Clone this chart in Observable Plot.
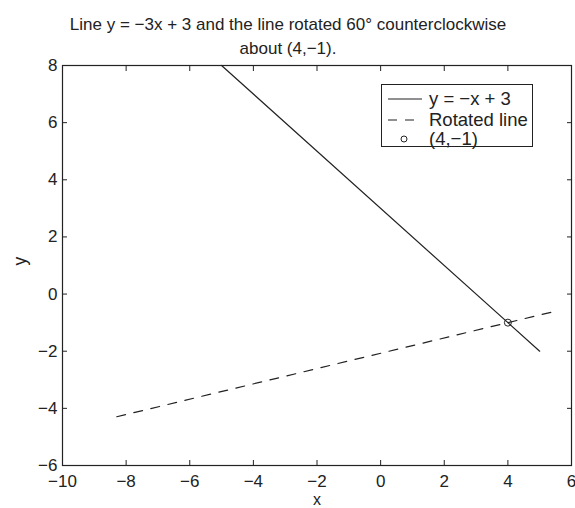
<!DOCTYPE html>
<html>
<head>
<meta charset="utf-8">
<script src="https://cdn.jsdelivr.net/npm/d3@7"></script>
<script src="https://cdn.jsdelivr.net/npm/@observablehq/plot@0.6"></script>
<style>
  html, body { margin: 0; padding: 0; background: #fff; }
  #wrap { position: relative; width: 575px; height: 508px; font-family: "Liberation Sans", Arial, Helvetica, sans-serif; }
  #legend { position: absolute; left: 381px; top: 84px; width: 152px; height: 63px; border: 1px solid #222; background: #fff; box-sizing: border-box; }
  .row { position: absolute; left: 0; width: 150px; height: 20px; }
  .row span { font-size: 18.5px; line-height: 20px; color: #222; position: absolute; top: 0; left: 47px; white-space: nowrap; }
  .row svg { position: absolute; left: 5px; top: 0; }
</style>
</head>
<body>
<div id="wrap"></div>
<script>
const titleText = "Line y = \u22123x + 3 and the line rotated 60\u00b0 counterclockwise\nabout (4,\u22121).";
const xTicks = [-10, -8, -6, -4, -2, 0, 2, 4, 6];
const yTicks = [-6, -4, -2, 0, 2, 4, 6, 8];
const lineX = [-5, 5];
const lineY = [8, -2];
const rotX = [-8.294, 5.366];
const rotY = [-4.294, -0.634];
const pointX = [4];
const pointY = [-1];
const legendLabels = ["y = \u2212x + 3", "Rotated line", "(4,\u22121)"];

const fmt = d => d < 0 ? "\u2212" + Math.abs(d) : String(d);
const solid = lineX.map((x, i) => ({x, y: lineY[i]}));
const dashed = rotX.map((x, i) => ({x, y: rotY[i]}));
const pts = pointX.map((x, i) => ({x, y: pointY[i]}));
const ink = "#222";

const chart = Plot.plot({
  width: 575,
  height: 508,
  marginTop: 65,
  marginBottom: 43,
  marginLeft: 62,
  marginRight: 4,
  style: {fontFamily: "'Liberation Sans', Arial, Helvetica, sans-serif", fontSize: "17px", color: ink, background: "white"},
  x: {domain: [-10, 6], ticks: xTicks},
  y: {domain: [-6, 8], ticks: yTicks},
  marks: [
    Plot.frame({stroke: ink, strokeWidth: 1.2}),
    Plot.axisX(xTicks, {anchor: "bottom", tickSize: 0, tickPadding: 9, tickFormat: fmt, label: null, fontSize: 17, fill: ink}),
    Plot.axisX(xTicks, {anchor: "bottom", tickSize: -5, fill: "none", label: null, stroke: ink}),
    Plot.axisX(xTicks, {anchor: "top", tickSize: -5, fill: "none", label: null, stroke: ink}),
    Plot.axisY(yTicks, {anchor: "left", tickSize: 0, tickPadding: 5, tickFormat: fmt, label: null, fontSize: 17, fill: ink}),
    Plot.axisY(yTicks, {anchor: "left", tickSize: -5, fill: "none", label: null, stroke: ink}),
    Plot.axisY(yTicks, {anchor: "right", tickSize: -5, fill: "none", label: null, stroke: ink}),
    Plot.line(solid, {x: "x", y: "y", stroke: ink, strokeWidth: 1.2}),
    Plot.line(dashed, {x: "x", y: "y", stroke: ink, strokeWidth: 1.2, strokeDasharray: "9,8.5"}),
    Plot.dot(pts, {x: "x", y: "y", r: 3.5, stroke: ink, fill: "none", strokeWidth: 1}),
    Plot.text([titleText], {frameAnchor: "top", dx: -29, dy: -31, lineAnchor: "middle", lineHeight: 1.4, fontSize: 17, fill: ink}),
    Plot.text(["x"], {frameAnchor: "bottom", dy: 34.5, lineAnchor: "middle", fontSize: 16, fill: ink}),
    Plot.text(["y"], {frameAnchor: "left", dx: -42, rotate: -90, lineAnchor: "middle", fontSize: 17.5, fill: ink})
  ]
});

const wrap = document.getElementById("wrap");
wrap.appendChild(chart);

const legend = document.createElement("div");
legend.id = "legend";
const samples = [
  '<svg width="36" height="20"><line x1="1" y1="10" x2="35" y2="10" stroke="#222" stroke-width="1.2"/></svg>',
  '<svg width="36" height="20"><line x1="1" y1="10" x2="35" y2="10" stroke="#222" stroke-width="1.2" stroke-dasharray="9,8"/></svg>',
  '<svg width="36" height="20"><circle cx="17" cy="10" r="3" fill="none" stroke="#222" stroke-width="1"/></svg>'
];
const tops = [4, 25, 44];
legendLabels.forEach((lab, i) => {
  const row = document.createElement("div");
  row.className = "row";
  row.style.top = tops[i] + "px";
  row.innerHTML = samples[i] + "<span>" + lab + "</span>";
  legend.appendChild(row);
});
wrap.appendChild(legend);
</script>
</body>
</html>
